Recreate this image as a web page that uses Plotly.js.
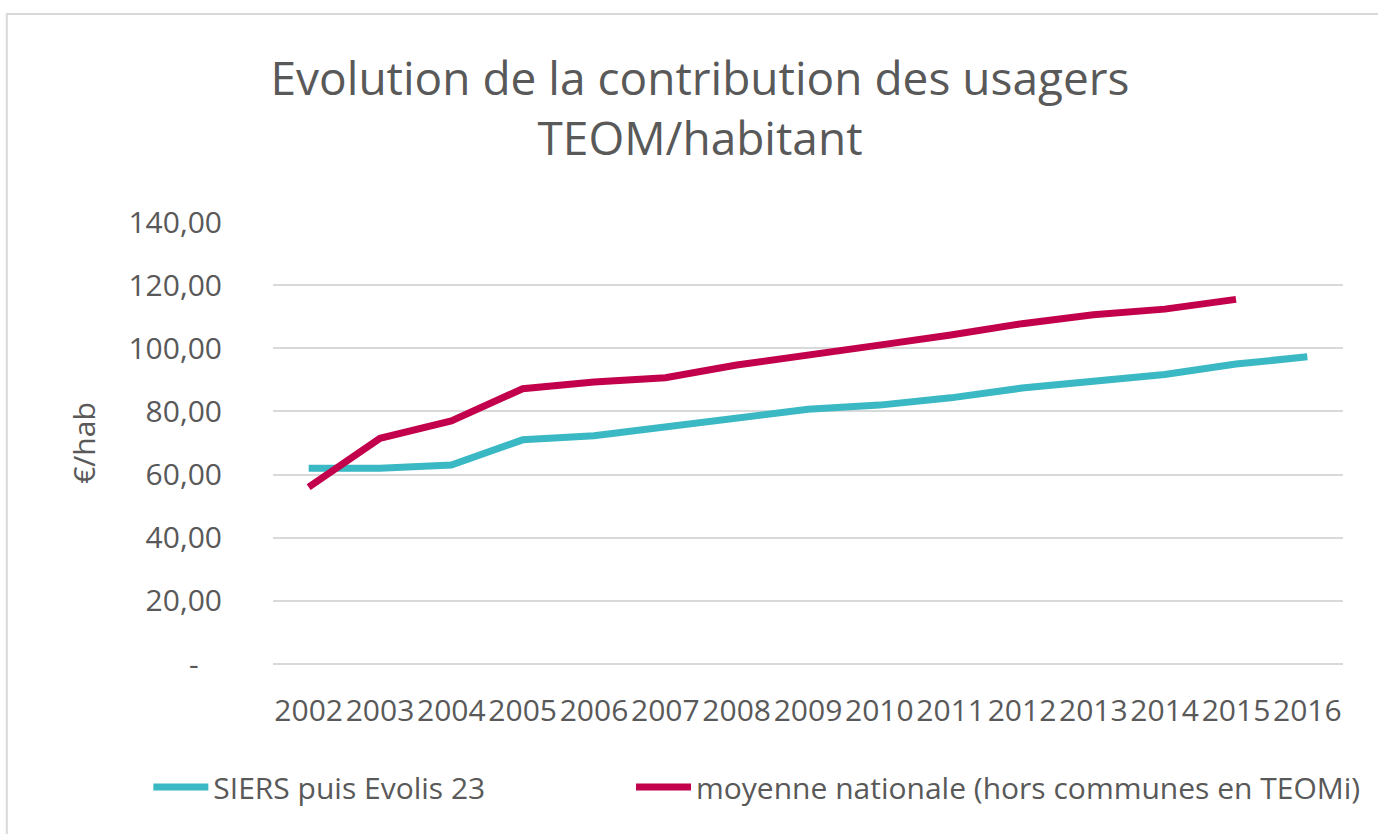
<!DOCTYPE html>
<html>
<head>
<meta charset="utf-8">
<script src="https://cdn.plot.ly/plotly-3.0.1.min.js"></script>
<style>
  html, body { margin: 0; padding: 0; background: #fff; }
  #chart { width: 1378px; height: 834px; }
</style>
</head>
<body>
<div id="chart"></div>
<script>
// Years on the category axis
const years = ['2002', '2003', '2004', '2005', '2006', '2007', '2008', '2009',
    '2010', '2011', '2012', '2013', '2014', '2015', '2016'];

// €/hab
const siersValues = [62, 62, 63, 71, 72.3, 75, 78, 80.7, 82, 84.3, 87.4, 89.8, 91.7, 95, 97.3];
const nationalValues = [56, 71.5, 77, 87.2, 89.3, 90.7, 94.7, 98.1, 101, 104.2, 107.8, 110.6, 112.4, 115.5];

// Y tick labels (French number format, zero shown as a dash)
const yTickVals = [0, 20, 40, 60, 80, 100, 120, 140];
const yTickText = ['-\u00a0\u00a0\u00a0', '20,00', '40,00', '60,00', '80,00', '100,00', '120,00', '140,00'];

const textColor = '#595959';
const gridColor = '#d9d9d9';
const fontFamily = '"Open Sans", "Noto Sans", sans-serif';

const traceSiers = {
    type: 'scatter',
    mode: 'lines',
    name: 'SIERS puis Evolis 23',
    x: years,
    y: siersValues,
    line: { color: '#3ab8c3', width: 7 },
    legend: 'legend'
};

const traceNational = {
    type: 'scatter',
    mode: 'lines',
    name: 'moyenne nationale (hors communes en TEOMi)',
    x: years.slice(0, nationalValues.length),
    y: nationalValues,
    line: { color: '#c2004b', width: 7 },
    legend: 'legend2'
};

const legendStyle = {
    orientation: 'h',
    xanchor: 'left',
    y: -0.278,
    yanchor: 'middle',
    font: { family: fontFamily, size: 30, color: textColor },
    itemwidth: 55,
    bgcolor: 'rgba(0,0,0,0)'
};

const layout = {
    width: 1378,
    height: 834,
    paper_bgcolor: '#fff',
    plot_bgcolor: '#fff',
    margin: { l: 273, r: 32, t: 222, b: 170 },
    font: { family: fontFamily, color: textColor, size: 30 },
    title: {
        text: 'Evolution de la contribution des usagers<br>TEOM/habitant',
        font: { family: fontFamily, size: 46, color: textColor },
        x: 0.508,
        xanchor: 'center',
        y: 1 - 95 / 834,
        yanchor: 'top',
        yref: 'container'
    },
    xaxis: {
        type: 'category',
        range: [-0.5, 14.5],
        showgrid: false,
        showline: false,
        zeroline: false,
        ticks: '',
        ticklabelstandoff: 26,
        tickfont: { family: fontFamily, size: 30, color: textColor }
    },
    yaxis: {
        range: [0, 140],
        tickvals: yTickVals,
        ticktext: yTickText,
        showgrid: true,
        gridcolor: gridColor,
        gridwidth: 2,
        zeroline: true,
        zerolinecolor: gridColor,
        zerolinewidth: 2,
        showline: false,
        ticks: '',
        ticklabelstandoff: 50,
        tickfont: { family: fontFamily, size: 30, color: textColor },
        title: {
            text: '€/hab',
            font: { family: fontFamily, size: 30, color: textColor },
            standoff: 23
        }
    },
    showlegend: true,
    legend: Object.assign({}, legendStyle, { x: -0.1165 }),
    legend2: Object.assign({}, legendStyle, { x: 0.3346 }),
    shapes: [{
        type: 'rect',
        xref: 'paper',
        yref: 'paper',
        x0: -0.2488,
        x1: 1.05,
        y0: -0.5,
        y1: 1.4706,
        line: { color: gridColor, width: 2 },
        fillcolor: 'rgba(0,0,0,0)',
        layer: 'below'
    }]
};

Plotly.newPlot('chart', [traceSiers, traceNational], layout, { displayModeBar: false, staticPlot: true });
</script>
</body>
</html>
